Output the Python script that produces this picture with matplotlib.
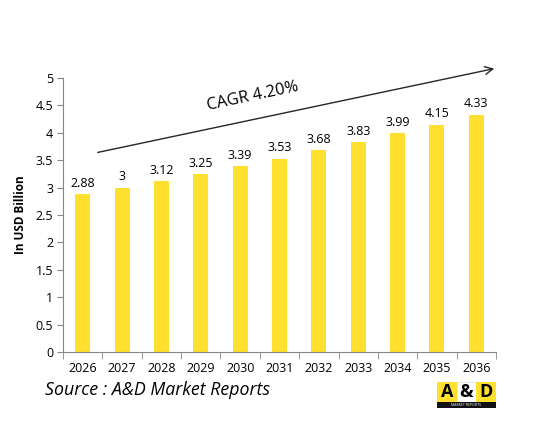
import matplotlib
matplotlib.use("Agg")
import matplotlib.pyplot as plt
from matplotlib.patches import Rectangle

years = ["2026", "2027", "2028", "2029", "2030", "2031", "2032", "2033", "2034", "2035", "2036"]
values = [2.88, 3.0, 3.12, 3.25, 3.39, 3.53, 3.68, 3.83, 3.99, 4.15, 4.33]
value_labels = ["2.88", "3", "3.12", "3.25", "3.39", "3.53", "3.68", "3.83", "3.99", "4.15", "4.33"]
yticks = [0, 0.5, 1, 1.5, 2, 2.5, 3, 3.5, 4, 4.5, 5]
ytick_labels = ["0", "0.5", "1", "1.5", "2", "2.5", "3", "3.5", "4", "4.5", "5"]

plt.rcParams['font.family'] = ['Open Sans', 'DejaVu Sans']

fig = plt.figure(figsize=(5.37, 4.37), dpi=100)
ax = fig.add_axes([63/537, 1-352/437, (496-63)/537, (352-78)/437])

x = list(range(len(years)))
ax.bar(x, values, width=0.38, color="#FFE02E", zorder=2)
for xi, v, lab in zip(x, values, value_labels):
    ax.text(xi, v + 0.08, lab, ha="center", va="bottom", fontsize=9, color="#000000")

ax.set_xlim(-0.5, len(years) - 0.5)
ax.set_ylim(0, 5)
ax.set_yticks(yticks)
ax.set_yticklabels(ytick_labels, fontsize=9)
ax.set_xticks(x)
ax.set_xticklabels(years, fontsize=9)
ax.tick_params(axis="x", length=0, pad=7)
ax.set_xticks([i - 0.5 for i in range(len(years) + 1)], minor=True)
ax.tick_params(axis="x", which="minor", length=5, color="#868686", direction="out")
ax.tick_params(axis="y", length=4, color="#868686", direction="out", pad=3)

for s in ["top", "right"]:
    ax.spines[s].set_visible(False)
for s in ["left", "bottom"]:
    ax.spines[s].set_color("#868686")
    ax.spines[s].set_linewidth(0.8)

ax.set_ylabel("In USD Billion", fontsize=8.5, fontweight="bold", labelpad=6)

# CAGR arrow
ax.annotate("", xy=(497/537, 1-68/437), xytext=(95/537, 1-153/437),
            xycoords="figure fraction", textcoords="figure fraction",
            arrowprops=dict(arrowstyle="->", color="#262626", lw=1.0, mutation_scale=14))
fig.text(253/537, 1-96/437, "CAGR 4.20%", fontsize=11.8, rotation=12,
         ha="center", va="center", color="#000000")

fig.text(45/537, 1-390/437, "Source : A&D Market Reports", fontsize=12.8,
         style="italic", ha="left", va="center", color="#000000")

# Logo
lx, ly, lw, lh = 437/537, 1-408/437, 59/537, 26/437
fig.patches.append(Rectangle((lx, ly + lh*0.22), lw/3, lh*0.78, transform=fig.transFigure,
                             facecolor="#FFE02E", edgecolor="none"))
fig.patches.append(Rectangle((lx + lw/3, ly + lh*0.22), lw/3, lh*0.78, transform=fig.transFigure,
                             facecolor="#FFFFFF", edgecolor="#DDDDDD", linewidth=0.5))
fig.patches.append(Rectangle((lx + 2*lw/3, ly + lh*0.22), lw/3, lh*0.78, transform=fig.transFigure,
                             facecolor="#FFE02E", edgecolor="none"))
fig.patches.append(Rectangle((lx, ly), lw, lh*0.22, transform=fig.transFigure,
                             facecolor="#111111", edgecolor="none"))
for i, ch in enumerate(["A", "&", "D"]):
    fig.text(lx + lw/6 + i*lw/3, ly + lh*0.6, ch, fontsize=13, fontweight="bold",
             ha="center", va="center", color="#000000")
fig.text(lx + lw/2, ly + lh*0.11, "MARKET REPORTS", fontsize=2.5, ha="center", va="center",
         color="#FFFFFF")

fig.savefig("out.png", dpi=100)
